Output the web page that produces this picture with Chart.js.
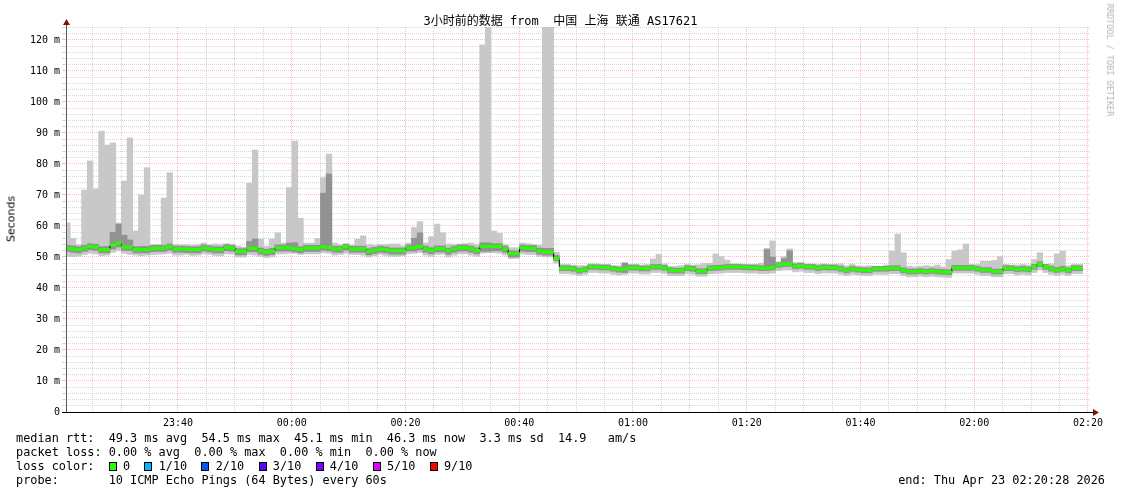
<!DOCTYPE html>
<html><head><meta charset="utf-8"><title>SmokePing AS17621</title>
<script src="https://cdn.jsdelivr.net/npm/chart.js@4/dist/chart.umd.min.js"></script>
<style>
html,body{margin:0;padding:0;background:#fff;}
#wrap{position:relative;width:1121px;height:494px;overflow:hidden;background:#fff;}
#c{position:absolute;left:0;top:0;}
.mono{position:absolute;font-family:"DejaVu Sans Mono",monospace;white-space:pre;color:#000;line-height:14px;}
.leg{font-size:11.85px;left:16px;}
.sw{display:inline-block;box-sizing:border-box;width:8px;height:9px;border:1px solid #000;vertical-align:-1px;margin-right:-0.87px;}
#title{left:0;top:14px;width:1121px;text-align:center;font-size:12px;font-family:"DejaVu Sans Mono","Noto Sans CJK SC",monospace;}
#ylab{position:absolute;left:11px;top:219px;transform:translate(-50%,-50%) rotate(-90deg);font-family:"DejaVu Sans",sans-serif;font-size:11px;white-space:nowrap;color:#000;}
#rrd{position:absolute;left:1110px;top:60px;transform:translate(-50%,-50%) rotate(90deg);font-family:"DejaVu Sans Mono",monospace;font-size:8.5px;color:#b4b4b4;white-space:pre;}
</style></head>
<body><div id="wrap">
<canvas id="c" width="1121" height="494"></canvas>
<div id="title" class="mono">3小时前的数据 from  中国 上海 联通 AS17621</div>
<div id="ylab">Seconds</div>
<div id="rrd">RRDTOOL / TOBI OETIKER</div>
<div class="mono leg" style="top:431px">median rtt:  49.3 ms avg  54.5 ms max  45.1 ms min  46.3 ms now  3.3 ms sd  14.9   am/s</div>
<div class="mono leg" style="top:445px">packet loss: 0.00 % avg  0.00 % max  0.00 % min  0.00 % now</div>
<div class="mono leg" style="top:459px">loss color:  <span class="sw" style="background:#26ff00"></span> 0  <span class="sw" style="background:#00b8ff"></span> 1/10  <span class="sw" style="background:#0059ff"></span> 2/10  <span class="sw" style="background:#5e00ff"></span> 3/10  <span class="sw" style="background:#7e00ff"></span> 4/10  <span class="sw" style="background:#dd00ff"></span> 5/10  <span class="sw" style="background:#ff0000"></span> 9/10</div>
<div class="mono leg" style="top:473px">probe:       10 ICMP Echo Pings (64 Bytes) every 60s</div>
<div class="mono" style="top:473px;right:16px;font-size:11.85px">end: Thu Apr 23 02:20:28 2026</div>
</div>
<script>
// ---- data (ms), one sample per minute, 23:20 .. 02:20 ----
const median = [
52.9,52.6,52.4,52.9,53.4,53.2,52.4,52.4,53.9,54.5,
53.2,53.2,52.4,52.4,52.4,52.8,52.9,52.9,53.3,52.6,
52.6,52.5,52.4,52.4,53.0,52.7,52.4,52.4,53.1,52.9,
51.8,51.8,52.8,52.8,52.0,51.6,51.9,53.0,53.0,53.0,
52.7,52.4,52.9,52.9,52.9,53.3,53.1,52.6,52.6,53.3,
52.6,52.6,52.6,51.8,52.2,52.6,52.4,52.0,52.0,52.0,
53.0,53.0,53.4,52.6,52.1,52.7,52.7,52.0,52.6,53.0,
53.0,52.6,52.1,53.4,53.4,53.4,53.4,52.6,51.1,51.1,
53.0,52.8,52.8,52.0,51.6,51.6,49.5,
46.4,46.4,46.2,
45.6,46.0,46.8,46.8,46.6,46.6,46.2,45.9,46.2,46.6,
46.6,46.3,46.3,46.8,46.8,46.5,45.7,45.6,45.6,46.4,
46.2,45.4,45.4,46.4,46.5,46.6,46.8,46.8,46.8,46.7,
46.6,46.6,46.4,46.4,46.6,47.4,47.7,47.8,47.0,47.2,
46.8,46.8,46.4,46.7,46.6,46.6,46.2,45.7,46.2,45.9,
45.7,45.7,46.2,46.2,46.2,46.4,46.4,45.7,45.3,45.3,
45.5,45.3,45.5,45.3,45.2,45.1,46.5,46.5,46.5,46.5,
46.2,45.8,45.8,45.3,45.3,46.4,46.4,46.0,46.2,46.0,
46.8,47.7,46.8,46.2,45.8,46.2,45.7,46.4,46.4];

const smokeHi = [
61,56,54,71.6,81,72,90.6,86.1,86.8,61,
74.5,88.4,58.4,70,78.8,54,54,69,77.2,54,
54,54,53.8,54,54.5,54,54.2,54,54.3,54,
53.5,53.2,73.8,84.5,55.8,53.5,55.8,57.8,54.5,72.4,
87.4,62.5,54.5,54.5,56,75.6,83.2,54.5,54,54,
53.8,55.8,56.8,54,53.8,54,54,54.2,54.2,53.6,
54.5,59.5,61.4,54.5,56.6,60.6,57.8,54.2,54,54.2,
54.3,54.5,54,118.4,126,58.4,57.6,54,53,53,
54.5,54.3,54,53.8,126,126,51.5,
47.6,47.6,47.4,
47.2,47.2,47.8,47.8,47.6,47.6,47.2,47.2,48.2,47.6,
47.6,47.4,47.6,49.4,50.9,47.8,47.0,47.0,47.2,47.6,
47.4,47.5,48.0,48.0,51.0,50.1,49.0,47.8,47.8,47.6,
47.6,47.6,48.0,52.8,55.2,48.4,50.1,52.6,48.2,48.2,
47.8,47.8,47.6,47.8,47.6,47.6,47.8,47.2,47.6,47.2,
47.0,47.2,47.0,47.0,47.4,51.9,57.4,51.4,47.0,46.8,
47.0,47.2,47.0,47.4,46.8,49.2,51.9,52.3,54.2,47.6,
47.6,48.7,48.7,48.9,50.1,47.6,47.4,47.4,47.6,47.4,
49.2,51.4,47.6,47.8,51.0,51.9,47.2,47.6,47.6];

const smokeLo = [
50.2,50.1,50.3,50.8,51.2,51.0,50.4,50.6,51.5,52.0,
51.2,50.8,50.6,50.4,50.6,50.8,50.9,51.0,51.2,50.6,
50.6,50.8,50.5,50.6,51.0,50.8,50.5,50.4,51.0,50.9,
50.0,50.0,50.8,50.6,50.2,49.8,50.0,51.0,51.0,51.2,
51.2,50.8,51.0,51.0,51.0,51.4,51.2,50.6,50.8,51.2,
50.8,50.8,50.6,50.0,50.4,50.8,50.5,50.2,50.2,50.4,
51.0,51.2,51.4,50.6,50.2,50.8,50.9,50.0,50.6,51.0,
51.0,50.6,50.2,51.2,51.4,51.4,51.2,50.6,49.5,49.6,
51.0,50.8,50.8,50.2,50.0,50.0,48.0,
44.6,44.6,44.4,
44.0,44.4,45.0,45.0,44.8,44.8,44.4,44.2,44.4,44.8,
44.8,44.5,44.5,45.0,45.0,44.7,44.0,44.0,44.0,44.6,
44.4,43.8,43.8,44.6,44.7,44.8,45.0,45.0,45.0,44.9,
44.8,44.8,44.6,44.6,44.8,45.6,45.8,45.8,45.2,45.4,
45.0,45.0,44.6,44.9,44.8,44.8,44.4,44.0,44.4,44.2,
44.0,44.0,44.4,44.4,44.4,44.6,44.6,44.0,43.6,43.6,
43.8,43.6,43.8,43.6,43.5,43.4,44.8,44.8,44.8,44.8,
44.4,44.0,44.0,43.6,43.6,44.6,44.6,44.2,44.4,44.2,
45.0,45.8,45.0,44.4,44.0,44.4,44.0,44.6,44.6];

const coreHi = [
53.8,53.6,53.3,53.8,54.3,54.1,53.3,53.4,58.0,60.6,
57.0,55.5,53.3,53.4,53.4,53.7,53.8,53.8,54.2,53.5,
53.5,53.4,53.3,53.3,53.9,53.6,53.3,53.3,54.0,53.8,
52.7,52.7,55.0,55.8,52.9,52.5,52.8,53.9,53.9,54.5,
54.6,53.3,53.8,53.8,53.8,70.6,76.8,53.5,53.5,54.2,
53.5,53.5,53.5,52.7,53.1,53.5,53.3,52.9,52.9,52.9,
53.9,56.0,57.8,53.5,53.0,53.6,53.6,52.9,53.5,53.9,
53.9,53.5,53.0,54.6,54.6,54.3,54.3,53.5,52.0,52.0,
53.9,53.7,53.7,52.9,52.8,52.8,50.5,
47.2,47.2,47.0,
46.4,46.8,47.5,47.5,47.4,47.4,47.0,46.7,48.0,47.4,
47.4,47.1,47.1,47.6,47.6,47.3,46.5,46.4,46.4,47.2,
47.0,46.2,46.2,47.2,47.3,47.4,47.6,47.6,47.6,47.5,
47.4,47.4,47.2,52.4,50.0,48.2,49.5,52.0,47.8,48.0,
47.6,47.6,47.2,47.5,47.4,47.4,47.0,46.5,47.0,46.7,
46.5,46.5,47.0,47.0,47.0,47.2,47.2,46.5,46.1,46.1,
46.3,46.1,46.3,46.1,46.0,45.9,47.3,47.3,47.3,47.3,
47.0,46.6,46.6,46.1,46.1,47.2,47.2,46.8,47.0,46.8,
47.6,48.5,47.6,47.0,46.6,47.0,46.5,47.2,47.2];

const coreLo = [
51.8,51.5,51.3,51.8,52.3,52.1,51.3,51.3,52.6,53.2,
52.1,52.1,51.3,51.3,51.3,51.7,51.8,51.8,52.2,51.5,
51.5,51.4,51.3,51.3,51.9,51.6,51.3,51.3,52.0,51.8,
50.7,50.7,51.7,51.7,50.9,50.5,50.8,51.9,51.9,51.9,
51.6,51.3,51.8,51.8,51.8,52.2,52.0,51.5,51.5,52.2,
51.5,51.5,51.5,50.7,51.1,51.5,51.3,50.9,50.9,50.9,
51.9,51.9,52.3,51.5,51.0,51.6,51.6,50.9,51.5,51.9,
51.9,51.5,51.0,51.8,51.8,52.0,52.0,51.5,50.0,50.0,
51.9,51.7,51.7,50.9,50.6,50.6,48.8,
45.6,45.6,45.4,
44.8,45.2,46.0,46.0,45.8,45.8,45.4,45.1,45.0,45.8,
45.8,45.5,45.5,46.0,46.0,45.7,44.9,44.8,44.8,45.6,
45.4,44.6,44.6,45.6,45.7,45.8,46.0,46.0,46.0,45.9,
45.8,45.8,45.6,45.6,45.8,46.6,46.9,47.0,46.2,46.4,
46.0,46.0,45.6,45.9,45.8,45.8,45.4,44.9,45.4,45.1,
44.9,44.9,45.4,45.4,45.4,45.6,45.6,44.9,44.5,44.5,
44.7,44.5,44.7,44.5,44.4,44.3,45.7,45.7,45.7,45.7,
45.4,45.0,45.0,44.5,44.5,45.6,45.6,45.2,45.4,45.2,
46.0,46.9,46.0,45.4,45.0,45.4,44.9,45.6,45.6];

// time axis in minutes relative to 00:00 (one sample every 60 s)
const FIRST_SAMPLE = -39.45;
const minutes = median.map((_, k) => FIRST_SAMPLE + k);
const X_MIN = -39.69, X_MAX = 140.18;     // 23:20:28 .. 02:20:28
const Y_MAX = 124.19;
const xTickValues = []; for (let v = -35; v <= 140; v += 5) xTickValues.push(v);
const yTickValues = []; for (let v = 0; v <= 124; v += 2) yTickValues.push(v);

function hhmm(v){ const t = ((Math.round(v) % 1440) + 1440) % 1440; const h = Math.floor(t/60), m = t%60; return String(h).padStart(2,'0') + ':' + String(m).padStart(2,'0'); }

const RED = 'rgba(255,120,120,0.5)', GRAY = 'rgba(200,200,200,0.75)';

const axisPlugin = {
  id: 'axes',
  afterDatasetsDraw(chart){
    const {ctx, chartArea:a, scales:{y}} = chart;
    const y0 = Math.round(y.getPixelForValue(0)) + 0.5;
    const xl = Math.round(a.left) + 0.5;
    ctx.save();
    ctx.lineWidth = 1;
    ctx.strokeStyle = '#5a5a5a';
    ctx.beginPath(); ctx.moveTo(xl, y0); ctx.lineTo(xl, a.top - 4); ctx.stroke();
    ctx.strokeStyle = '#000';
    ctx.beginPath(); ctx.moveTo(a.left - 4, y0); ctx.lineTo(a.right + 5, y0); ctx.stroke();
    ctx.fillStyle = '#7a1212';
    ctx.beginPath(); ctx.moveTo(xl - 3.5, a.top - 2); ctx.lineTo(xl + 3.5, a.top - 2); ctx.lineTo(xl, a.top - 8); ctx.closePath(); ctx.fill();
    ctx.beginPath(); ctx.moveTo(a.right + 4, y0 - 3.5); ctx.lineTo(a.right + 4, y0 + 3.5); ctx.lineTo(a.right + 10, y0); ctx.closePath(); ctx.fill();
    ctx.restore();
  }
};

new Chart(document.getElementById('c'), {
  data: { datasets: [
    { type:'bar', data: minutes.map((m,i)=>({x:m, y:[smokeLo[i], smokeHi[i]]})), backgroundColor:'#c8c8c8', order:4 },
    { type:'bar', data: minutes.map((m,i)=>({x:m, y:[coreLo[i], coreHi[i]]})), backgroundColor:'#929292', order:3 },
    { type:'line', data: minutes.map((m,i)=>({x:m, y:median[i]})), borderColor:'#000', borderWidth:1, stepped:'middle', pointRadius:0, order:2 },
    { type:'bar', data: minutes.map((m,i)=>({x:m, y:[median[i]-0.4, median[i]+0.4]})), backgroundColor:'#26ff00', order:1 }
  ]},
  options: {
    responsive:false, animation:false, devicePixelRatio:1,
    layout:{ padding:{ left:0, top:27, right:32, bottom:0 } },
    plugins:{ legend:{display:false}, tooltip:{enabled:false}, title:{display:false} },
    datasets:{ bar:{ barPercentage:1, categoryPercentage:1, grouped:false, borderWidth:0 } },
    scales:{
      x:{
        type:'linear', position:'bottom', min:X_MIN, max:X_MAX, offset:false,
        afterBuildTicks(s){ s.ticks = xTickValues.map(v=>({value:v})); },
        afterFit(s){ s.height = 82; },
        ticks:{ autoSkip:false, maxRotation:0, padding:5, color:'#000',
          font:{ family:'"DejaVu Sans Mono", monospace', size:10 },
          callback:(v)=> (v % 20 === 0 ? hhmm(v) : '') },
        grid:{ drawTicks:false, lineWidth:1, offset:false,
          color:(c)=>{ const v = c.tick ? c.tick.value : NaN; return (v % 20 === 0) ? RED : GRAY; } },
        border:{ display:false, dash:[1,1] }
      },
      y:{
        type:'linear', min:0, max:Y_MAX,
        afterBuildTicks(s){ s.ticks = yTickValues.map(v=>({value:v})); },
        afterFit(s){ s.width = 66; },
        ticks:{ autoSkip:false, padding:2, color:'#000',
          font:{ family:'"DejaVu Sans Mono", monospace', size:10 },
          callback:(v)=> (v === 0 ? '0' : (v % 10 === 0 ? v + ' m' : '')) },
        grid:{ tickLength:4, lineWidth:1,
          color:(c)=>{ const v = c.tick ? c.tick.value : NaN; if (v === 0) return 'rgba(0,0,0,0)'; return (v % 10 === 0) ? RED : GRAY; } },
        border:{ display:false, dash:[1,1] }
      }
    }
  },
  plugins:[axisPlugin]
});
</script>
</body></html>
